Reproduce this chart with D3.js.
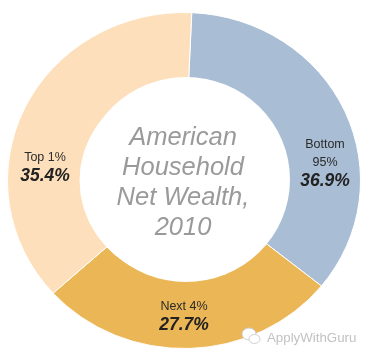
<!DOCTYPE html>
<html>
<head>
<meta charset="utf-8">
<script src="https://cdn.jsdelivr.net/npm/d3@7"></script>
<style>
  html, body { margin: 0; padding: 0; background: #fff; }
  text { font-family: "Liberation Sans", sans-serif; }
  svg { filter: blur(0.4px); }
</style>
</head>
<body>
<div id="chart-1"></div>
<script>
// slices go clockwise from the top, same order as the picture
const groups = ['Bottom 95%', 'Next 4%', 'Top 1%']
const shownValues = ['36.9%', '27.7%', '35.4%']
// the drawn slices don't quite agree with their printed labels, so these are measured off the picture
const sliceShares = [35.1, 27.5, 37.4]
const titleLines = ['American', 'Household', 'Net Wealth,', '2010']

const width = 375
const height = 356

const colorScale = d3.scaleOrdinal().domain(groups).range(['#a9bdd4', '#ebb655', '#fde0bb'])

const svg = d3
  .select('#chart-1')
  .append('svg')
  .attr('width', width)
  .attr('height', height)
  .style('display', 'block')

// reference ring is slightly squashed, so draw a circle and scale y
const ring = svg
  .append('g')
  .attr('transform', 'translate(184,180.5) scale(1,0.952)')

const pie = d3.pie().sort(null).startAngle(Math.PI * 2 * 0.007).endAngle(Math.PI * 2 * 1.007)
const arc = d3.arc().innerRadius(104).outerRadius(176.5)

ring
  .selectAll('path')
  .data(pie(sliceShares))
  .enter()
  .append('path')
  .attr('d', arc)
  .attr('fill', (d, i) => colorScale(groups[i]))
  .attr('stroke', 'white')
  .attr('stroke-width', 1)

// inner hole sits a little right of the ring centre
svg.append('ellipse')
  .attr('cx', 186)
  .attr('cy', 179.5)
  .attr('rx', 104)
  .attr('ry', 102.5)
  .attr('fill', 'white')

// centre title
svg
  .append('g')
  .selectAll('text')
  .data(titleLines)
  .enter()
  .append('text')
  .attr('x', 183)
  .attr('y', (d, i) => 145 + i * 30)
  .attr('text-anchor', 'middle')
  .attr('font-size', 25.5)
  .attr('font-style', 'italic')
  .attr('fill', '#9a9a9a')
  .text(d => d)

// slice labels: small name lines then the bold value
const labels = [
  { name: ['Bottom', '95%'], x: 325, y: 148, value: shownValues[0] },
  { name: ['Next 4%'], x: 184, y: 310, value: shownValues[1] },
  { name: ['Top 1%'], x: 45, y: 161, value: shownValues[2] }
]

labels.forEach(function(l) {
  l.name.forEach(function(line, i) {
    svg.append('text')
      .attr('x', l.x)
      .attr('y', l.y + i * 18)
      .attr('text-anchor', 'middle')
      .attr('font-size', 12.5)
      .attr('fill', '#2b2b2b')
      .text(line)
  })
  svg.append('text')
    .attr('x', l.x)
    .attr('y', l.y + (l.name.length - 1) * 18 + 20)
    .attr('text-anchor', 'middle')
    .attr('font-size', 17.5)
    .attr('font-weight', 'bold')
    .attr('font-style', 'italic')
    .attr('fill', '#222')
    .text(l.value)
})

// watermark
const mark = svg.append('g').attr('fill', '#fff').attr('stroke', '#cfcfcf').attr('stroke-width', 1)
mark.append('ellipse').attr('cx', 249).attr('cy', 334).attr('rx', 7).attr('ry', 6)
mark.append('ellipse').attr('cx', 254.5).attr('cy', 339).attr('rx', 5.5).attr('ry', 4.5)

svg.append('text')
  .attr('x', 267)
  .attr('y', 342)
  .attr('font-size', 13.3)
  .attr('fill', '#c2c2c2')
  .text('ApplyWithGuru')
</script>
</body>
</html>
